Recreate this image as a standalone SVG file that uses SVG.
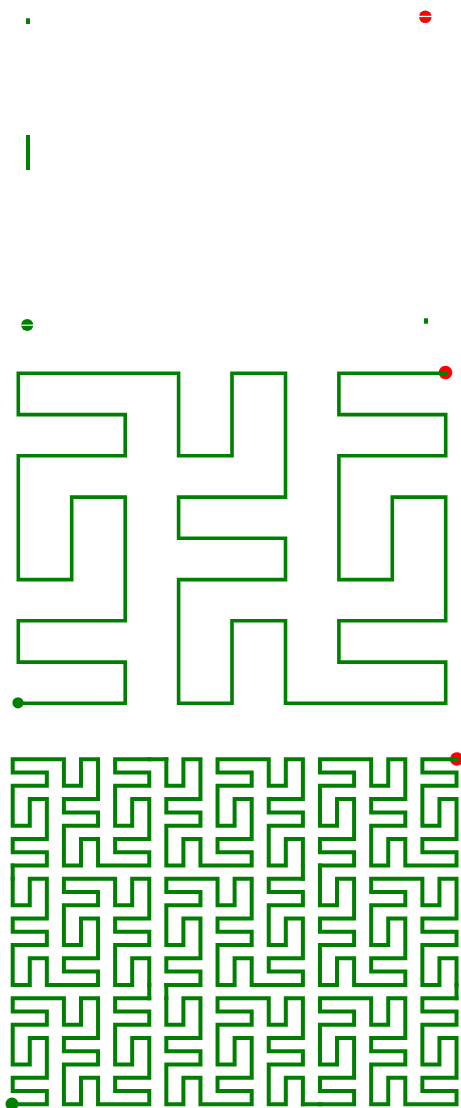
<svg xmlns="http://www.w3.org/2000/svg" xmlns:xlink="http://www.w3.org/1999/xlink" width="461" height="1108" viewBox="0 0 461 1108">
<style>
.g{fill:none;stroke:#008000;stroke-linejoin:miter;stroke-linecap:square}
.m{stroke-width:3.6}
.b{stroke-width:4}
.gf{fill:#008000}
.rf{fill:#ff0000}
.st{fill:#ffffff}
</style>
<defs>
<path id="P2" class="g b" d="M0,106.16 H34.14 V92.89 H0 V79.62 H34.14 V39.81 H17.07 V66.35 H0 V26.54 H34.14 V13.27 H0 V0 H51.21 V26.54 H68.28 V0 H85.35 V39.81 H51.21 V53.08 H85.35 V66.35 H51.21 V106.16 H68.28 V79.62 H85.35 V106.16 H136.56 V92.89 H102.42 V79.62 H136.56 V39.81 H119.49 V66.35 H102.42 V26.54 H136.56 V13.27 H102.42 V0 H136.56"/>
<path id="Q2" class="g b" d="M0,106.16 V79.62 H17.07 V106.16 H34.14 V66.35 H0 V53.08 H34.14 V39.81 H0 V0 H17.07 V26.54 H34.14 V0 H85.35 V13.27 H51.21 V26.54 H85.35 V66.35 H68.28 V39.81 H51.21 V79.62 H85.35 V92.89 H51.21 V106.16 H102.42 V79.62 H119.49 V106.16 H136.56 V66.35 H102.42 V53.08 H136.56 V39.81 H102.42 V0 H119.49 V26.54 H136.56 V0"/>
</defs>
<rect width="461" height="1108" fill="#ffffff"/>

<g id="order1">
<rect class="gf" x="26" y="18.3" width="4" height="5.7"/>
<rect class="gf" x="26" y="135" width="4" height="35"/>
<rect class="gf" x="424" y="318.3" width="4" height="5.4"/>
<g id="order1-end">
<circle class="rf" cx="425.3" cy="16.8" r="6.3"/>
<rect class="st" x="418" y="15.8" width="15" height="1.3"/>
</g>
<g id="order1-start">
<circle class="gf" cx="27.2" cy="325" r="6.1"/>
<rect class="st" x="20" y="324.6" width="15" height="1.2"/>
</g>
</g>

<g id="order2">
<circle id="order2-end" class="rf" cx="445.5" cy="372.5" r="6.8"/>
<path class="g m" d="M18.3,703.3 H125.2 V662.1 H18.3 V620.8 H125.2 V497.1 H71.7 V579.6 H18.3 V455.8 H125.2 V414.6 H18.3 V373.3 H178.6 V455.8 H232 V373.3 H285.5 V497.1 H178.6 V538.3 H285.5 V579.6 H178.6 V703.3 H232 V620.8 H285.5 V703.3 H445.7 V662.1 H338.9 V620.8 H445.7 V497.1 H392.3 V579.6 H338.9 V455.8 H445.7 V414.6 H338.9 V373.3 H445.7"/>
<circle id="order2-start" class="gf" cx="18" cy="702.8" r="5.6"/>
</g>

<g id="order3">
<circle id="order3-end" class="rf" cx="456.8" cy="759" r="6.8"/>
<g id="macros">
<use xlink:href="#P2" transform="translate(12.7,998.16)"/>
<use xlink:href="#Q2" transform="translate(149.26,878.73) scale(-1,1)"/>
<use xlink:href="#P2" transform="translate(12.7,759.3)"/>
<use xlink:href="#Q2" transform="translate(166.33,865.46) scale(1,-1)"/>
<use xlink:href="#P2" transform="translate(302.89,984.89) scale(-1,-1)"/>
<use xlink:href="#Q2" transform="translate(166.33,1104.32) scale(1,-1)"/>
<use xlink:href="#P2" transform="translate(319.96,998.16)"/>
<use xlink:href="#Q2" transform="translate(456.52,878.73) scale(-1,1)"/>
<use xlink:href="#P2" transform="translate(319.96,759.3)"/>
</g>
<g id="connectors">
<path class="g b" d="M149.26,998.16 V984.89 M12.7,878.73 V865.46 M149.26,759.3 H166.33 M302.89,865.46 V878.73 M166.33,984.89 V998.16 M302.89,1104.32 H319.96 M456.52,998.16 V984.89 M319.96,878.73 V865.46"/>
</g>
<circle id="order3-start" class="gf" cx="12" cy="1104" r="6.5"/>
</g>
</svg>
